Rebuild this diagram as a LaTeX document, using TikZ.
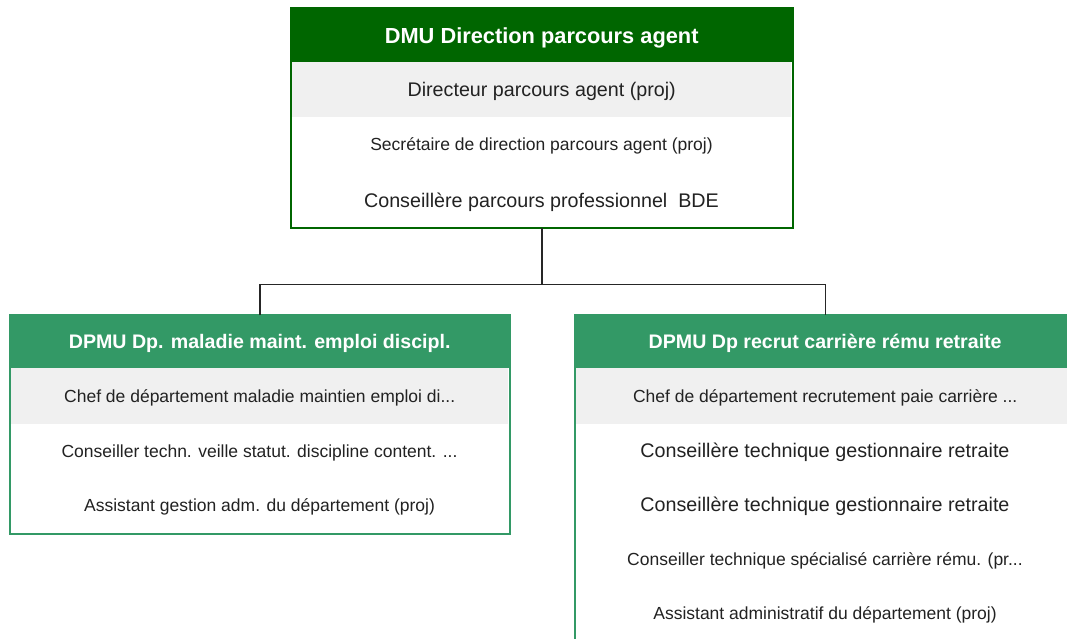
\documentclass[tikz,border=0pt]{standalone}
\usepackage{fontspec}
\setmainfont{Liberation Sans}
\definecolor{dkgreen}{HTML}{006600}
\definecolor{mdgreen}{HTML}{339966}
\definecolor{rowgrey}{HTML}{F0F0F0}
\definecolor{txt}{HTML}{222222}
\tikzset{
  frame/.style={draw=#1, line width=1.2pt, fill=white, anchor=north west, inner sep=0pt},
  hdr/.style={fill=#1, text=white, font=\fontsize{21.8}{24}\selectfont\bfseries, anchor=north west, inner sep=0pt, text height=15.7pt, text depth=0pt},
  subhdr/.style={hdr=#1, font=\fontsize{19.6}{22}\selectfont\bfseries, text height=14.1pt},
  greyrow/.style={fill=rowgrey, anchor=north west, inner sep=0pt, text=txt},
  bigtxt/.style={text=txt, font=\fontsize{19.7}{22}\selectfont, inner sep=0pt, text height=14.2pt, text depth=0pt},
  smalltxt/.style={text=txt, font=\fontsize{17.5}{20}\selectfont, inner sep=0pt, text height=12.6pt, text depth=0pt},
  link/.style={draw=black!85, line width=1.3pt},
}
\begin{document}
\begin{tikzpicture}[x=1pt,y=-1pt]
\useasboundingbox (0,0) rectangle (1067,639);
\clip (0,0) rectangle (1067,639);
% top box
\node[frame=dkgreen, minimum width=501pt, minimum height=219pt] (top) at (291,8) {};
\node[hdr=dkgreen, minimum width=501pt, minimum height=54pt] (toph) at (291,8) {DMU Direction parcours agent};
\node[greyrow, minimum width=499pt, minimum height=55pt] (topr1) at (292,62) {};
\node[bigtxt] (topr1t) at (topr1.center) {Directeur parcours agent (proj)};
\node[smalltxt] (topr2) at (541.5,144) {Secrétaire de direction parcours agent (proj)};
\node[bigtxt] (topr3) at (541.5,200) {Conseillère parcours professionnel\ \ BDE};
\draw[dkgreen, line width=1.2pt] (top.north west) rectangle (top.south east);
% left box
\node[frame=mdgreen, minimum width=499pt, minimum height=218pt] (left) at (10,315) {};
\node[subhdr=mdgreen, minimum width=499pt, minimum height=53pt] (lefth) at (10,315) {DPMU Dp. maladie maint. emploi discipl.};
\node[greyrow, minimum width=497pt, minimum height=56pt] (leftr1) at (11,368) {};
\node[smalltxt] (leftr1t) at (leftr1.center) {Chef de département maladie maintien emploi di...};
\node[smalltxt] (leftr2) at (259.5,451) {Conseiller techn. veille statut. discipline content. ...};
\node[smalltxt] (leftr3) at (259.5,505) {Assistant gestion adm. du département (proj)};
\draw[mdgreen, line width=1.2pt] (left.north west) rectangle (left.south east);
% right box
\node[frame=mdgreen, minimum width=500pt, minimum height=340pt] (right) at (575,315) {};
\node[subhdr=mdgreen, minimum width=500pt, minimum height=53pt] (righth) at (575,315) {DPMU Dp recrut carrière rému retraite};
\node[greyrow, minimum width=498pt, minimum height=56pt] (rightr1) at (576,368) {};
\node[smalltxt] (rightr1t) at (rightr1.center) {Chef de département recrutement paie carrière ...};
\node[bigtxt] (rightr2) at (825,450) {Conseillère technique gestionnaire retraite};
\node[bigtxt] (rightr3) at (825,504) {Conseillère technique gestionnaire retraite};
\node[smalltxt] (rightr4) at (825,559) {Conseiller technique spécialisé carrière rému. (pr...};
\node[smalltxt] (rightr5) at (825,613) {Assistant administratif du département (proj)};
\draw[mdgreen, line width=1.2pt] (right.north west) rectangle (right.south east);
% connectors
\draw[link] (top.south) -- ++(0,56) coordinate (j);
\draw[link] (left.north) |- (j) -| (right.north);
\end{tikzpicture}
\end{document}
